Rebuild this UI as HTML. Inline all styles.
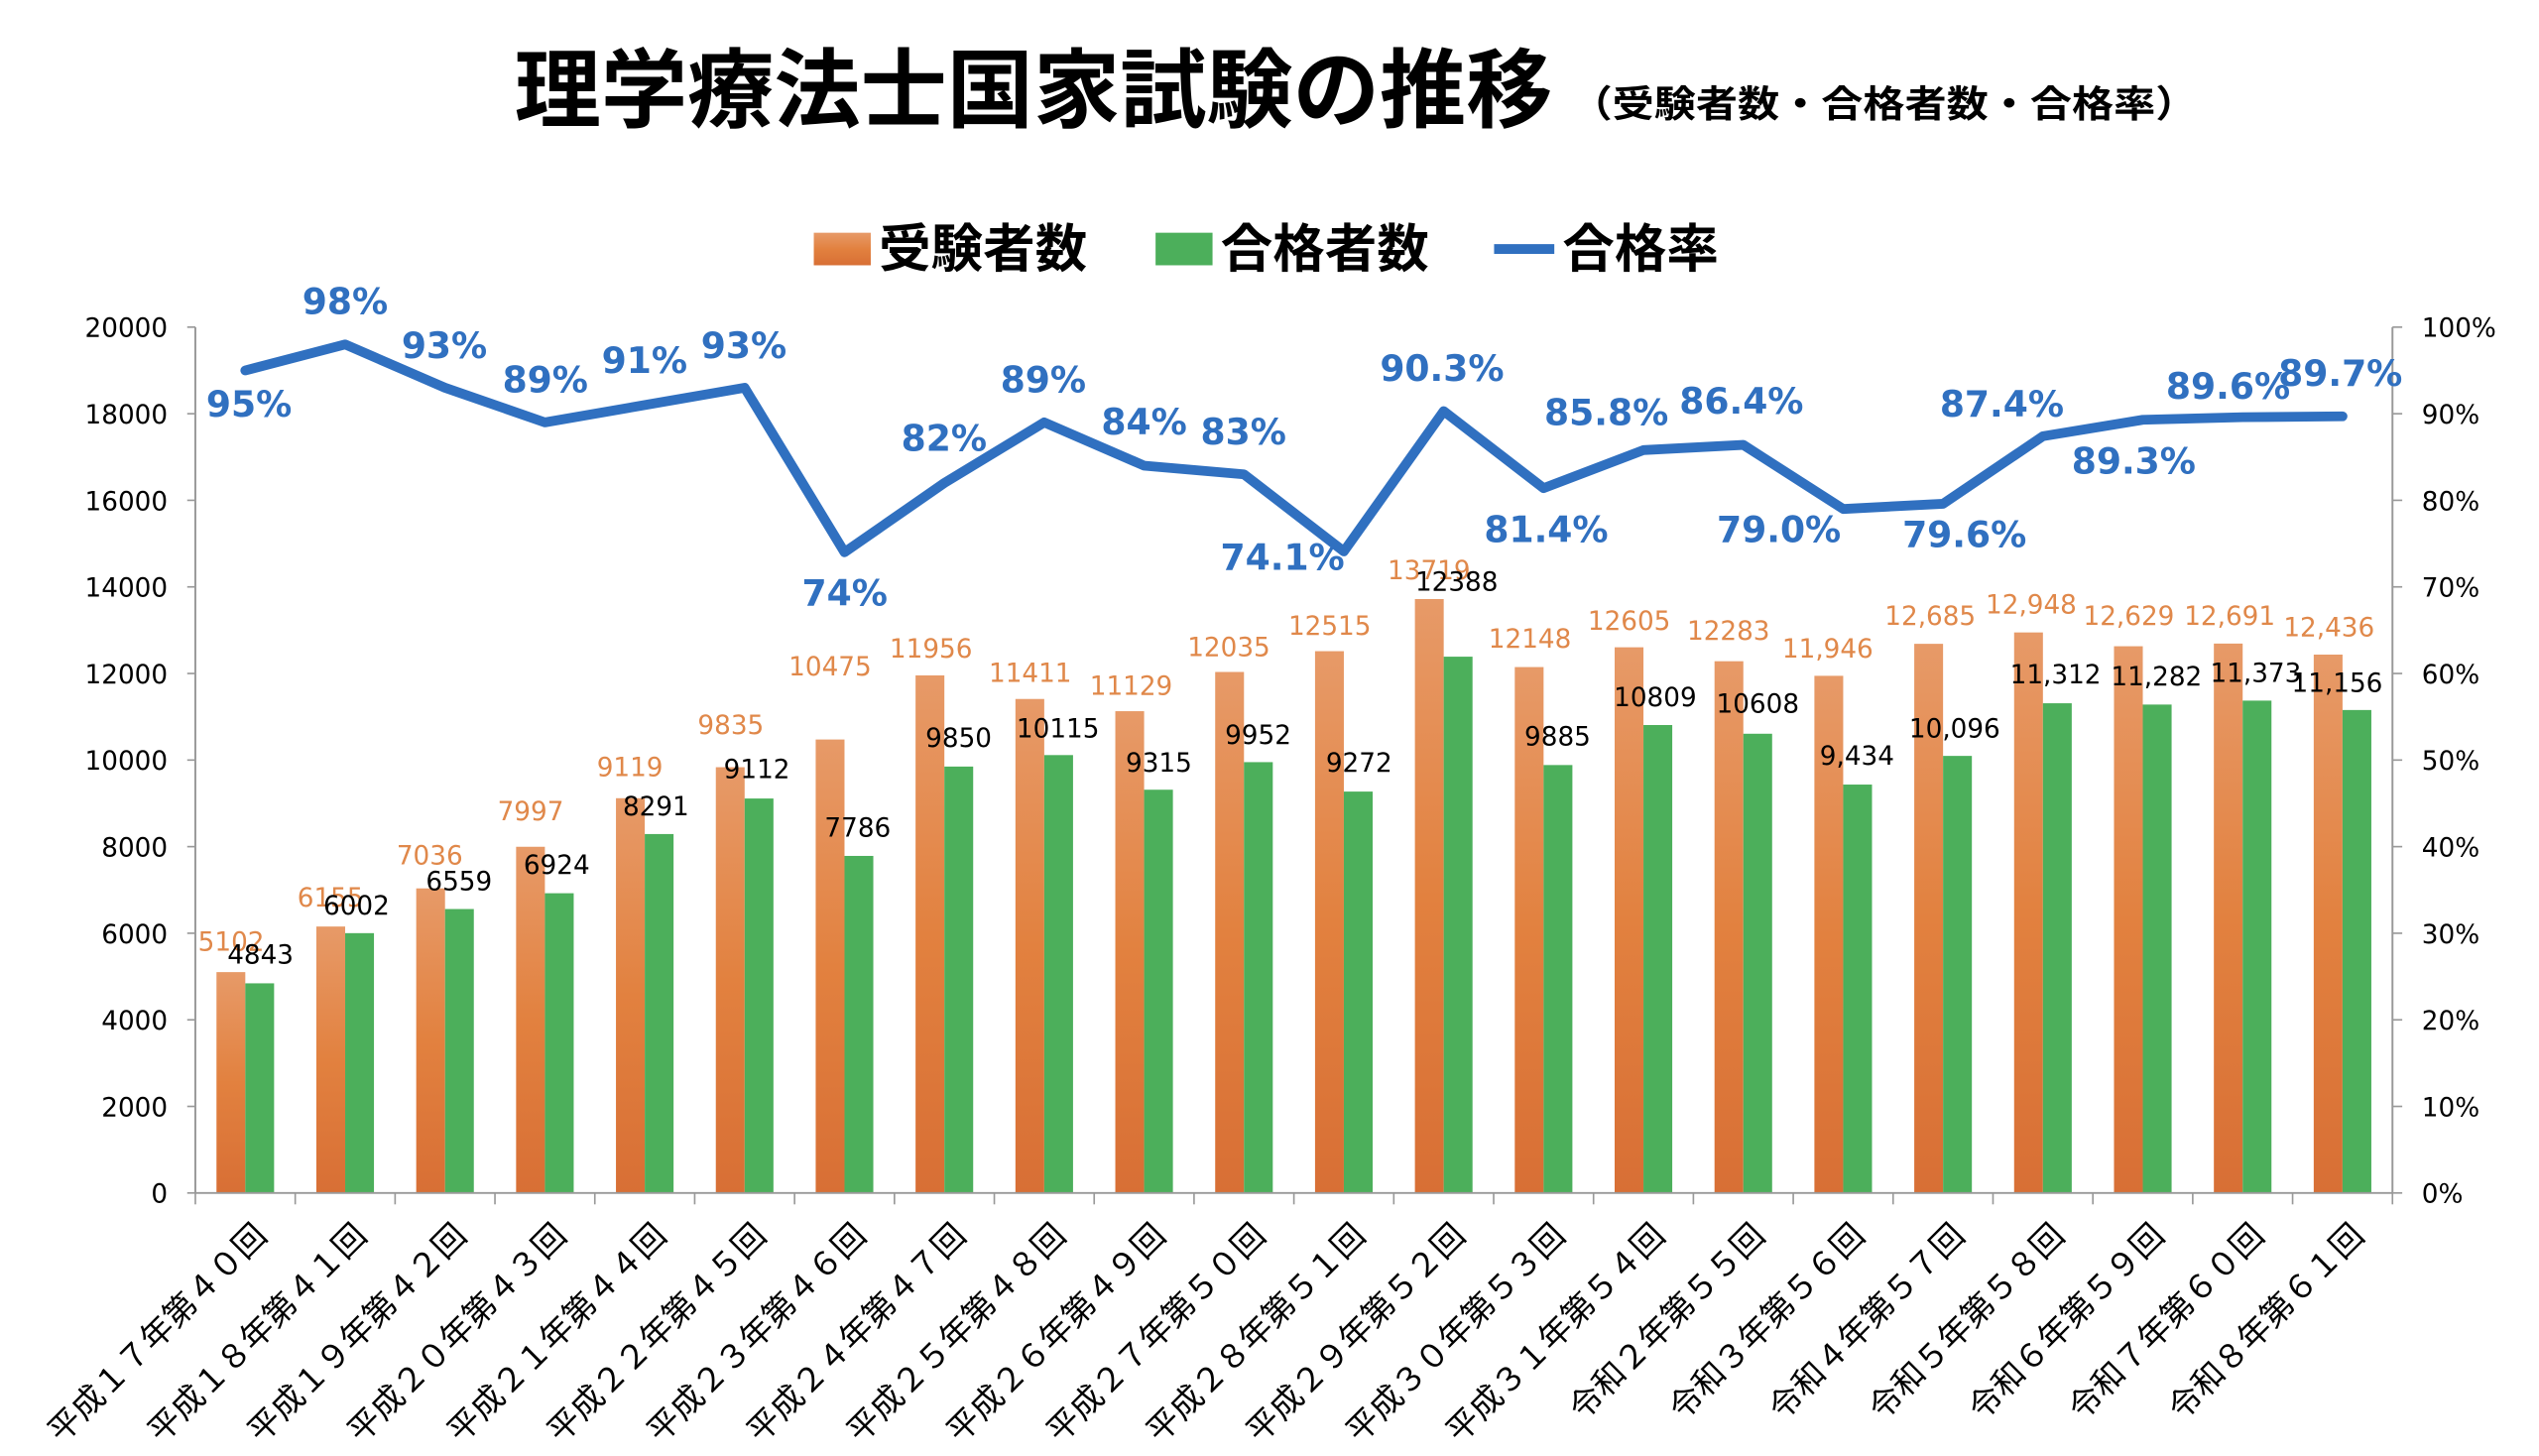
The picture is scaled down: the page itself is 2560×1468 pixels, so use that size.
<!DOCTYPE html>
<html><head><meta charset="utf-8"><style>
html,body{margin:0;padding:0;background:#fff;}
svg{display:block;}
text{font-family:"DejaVu Sans","Liberation Sans","Noto Sans CJK JP",sans-serif;}
.jp{font-family:"Liberation Sans","Noto Sans CJK JP",sans-serif;}
</style></head><body>
<svg id="s" width="2560" height="1468" viewBox="0 0 1560 894.6" xmlns="http://www.w3.org/2000/svg">
<defs>
<linearGradient id="og" x1="0" y1="0" x2="0" y2="1"><stop offset="0" stop-color="#e79a68"/><stop offset="0.5" stop-color="#e2813f"/><stop offset="1" stop-color="#d86f35"/></linearGradient>
</defs>
<text class="jp" x="316" y="74" font-size="53" font-weight="bold" fill="#000" textLength="638" lengthAdjust="spacingAndGlyphs">理学療法士国家試験の推移</text>
<text class="jp" x="965" y="72" font-size="23" font-weight="bold" fill="#000" textLength="385" lengthAdjust="spacingAndGlyphs">（受験者数・合格者数・合格率）</text>
<rect x="500" y="143" width="35" height="20" fill="url(#og)"/>
<text class="jp" x="540" y="164" font-size="32" font-weight="bold">受験者数</text>
<rect x="710" y="143" width="35" height="20" fill="#4caf5b"/>
<text class="jp" x="750" y="164" font-size="32" font-weight="bold">合格者数</text>
<line x1="918" y1="153" x2="955" y2="153" stroke="#3070c0" stroke-width="6"/>
<text class="jp" x="960" y="164" font-size="32" font-weight="bold">合格率</text>
<g id="g"></g>
</svg>
<script>
var A=[5102,6155,7036,7997,9119,9835,10475,11956,11411,11129,12035,12515,13719,12148,12605,12283,11946,12685,12948,12629,12691,12436];
var P=[4843,6002,6559,6924,8291,9112,7786,9850,10115,9315,9952,9272,12388,9885,10809,10608,9434,10096,11312,11282,11373,11156];
var R=[95,98,93,89,91,93,74,82,89,84,83,74.1,90.3,81.4,85.8,86.4,79.0,79.6,87.4,89.3,89.6,89.7];
var RL=["95%","98%","93%","89%","91%","93%","74%","82%","89%","84%","83%","74.1%","90.3%","81.4%","85.8%","86.4%","79.0%","79.6%","87.4%","89.3%","89.6%","89.7%"];
var RP=[[153,248],[212,185],[273,212],[335,233],[396,221],[457,212],[519,364],[580,269],[641,233],[703,259],[764,265],[788,342],[886,226],[950,325],[987,253],[1070,246],[1093,325],[1207,328],[1230,248],[1311,283],[1369,237],[1438,229]];
var AL=["5102","6155","7036","7997","9119","9835","10475","11956","11411","11129","12035","12515","13719","12148","12605","12283","11,946","12,685","12,948","12,629","12,691","12,436"];
var PL=["4843","6002","6559","6924","8291","9112","7786","9850","10115","9315","9952","9272","12388","9885","10809","10608","9,434","10,096","11,312","11,282","11,373","11,156"];
var AP=[[142,578],[203,551],[264,525],[326,498],[387,471],[449,445],[510,409],[572,398],[633,413],[695,421],[755,397],[817,384],[878,350],[940,392],[1001,381],[1062,387],[1123,398],[1186,378],[1248,371],[1308,378],[1370,378],[1431,385]];
var PP=[[160,586],[219,556],[282,541],[342,531],[403,495],[465,472],[527,508],[589,453],[650,447],[712,468],[773,451],[835,468],[895,357],[957,452],[1017,428],[1080,432],[1141,464],[1201,447],[1263,414],[1325,415],[1386,413],[1436,419]];
var CAT=["平成１７年第４０回","平成１８年第４１回","平成１９年第４２回","平成２０年第４３回","平成２１年第４４回","平成２２年第４５回","平成２３年第４６回","平成２４年第４７回","平成２５年第４８回","平成２６年第４９回","平成２７年第５０回","平成２８年第５１回","平成２９年第５２回","平成３０年第５３回","平成３１年第５４回","令和２年第５５回","令和３年第５６回","令和４年第５７回","令和５年第５８回","令和６年第５９回","令和７年第６０回","令和８年第６１回"];
var L=120,Rx=1470,Y0=733,YT=201,H=Y0-YT,W=(Rx-L)/22,s="";
function y(v){return Y0-v/20000*H;}
function yr(p){return Y0-p/100*H;}
for(var i=0;i<=10;i++){var yy=Y0-i*H/10;
 s+='<text x="103" y="'+(yy+6)+'" font-size="16" text-anchor="end">'+(i*2000)+'</text>';
 s+='<line x1="115" y1="'+yy+'" x2="120" y2="'+yy+'" stroke="#999"/>';
 s+='<line x1="1470" y1="'+yy+'" x2="1476" y2="'+yy+'" stroke="#999"/>';
 s+='<text x="1488" y="'+(yy+6)+'" font-size="16">'+(i*10)+'%</text>';}
for(var i=0;i<22;i++){var c=L+W*i+W/2;
 s+='<rect x="'+(c-17.7)+'" y="'+y(A[i])+'" width="17.7" height="'+(Y0-y(A[i]))+'" fill="url(#og)"/>';
 s+='<rect x="'+c+'" y="'+y(P[i])+'" width="17.7" height="'+(Y0-y(P[i]))+'" fill="#4caf5b"/>';}
for(var i=0;i<=22;i++){var x=L+W*i;s+='<line x1="'+x+'" y1="733" x2="'+x+'" y2="740" stroke="#999"/>';}
s+='<line x1="120" y1="201" x2="120" y2="733" stroke="#999" stroke-width="1.2"/>';
s+='<line x1="1470" y1="201" x2="1470" y2="733" stroke="#999" stroke-width="1.2"/>';
s+='<line x1="120" y1="733" x2="1470" y2="733" stroke="#999" stroke-width="1.2"/>';
var pts=[];for(var i=0;i<22;i++)pts.push((L+W*i+W/2)+','+yr(R[i]));
s+='<polyline points="'+pts.join(' ')+'" fill="none" stroke="#3070c0" stroke-width="6" stroke-linejoin="round" stroke-linecap="round"/>';
for(var i=0;i<22;i++){
 s+='<text x="'+AP[i][0]+'" y="'+(AP[i][1]+6)+'" font-size="16" fill="#e0884a" text-anchor="middle">'+AL[i]+'</text>';
 s+='<text x="'+PP[i][0]+'" y="'+(PP[i][1]+6)+'" font-size="16" fill="#000" text-anchor="middle">'+PL[i]+'</text>';
 s+='<text x="'+RP[i][0]+'" y="'+(RP[i][1]+8)+'" font-size="22" font-weight="bold" fill="#3070c0" text-anchor="middle">'+RL[i]+'</text>';
 var c=L+W*i+W/2+4;
 s+='<text class="jp" transform="translate('+c+',750) rotate(-45)" font-size="20" text-anchor="end" dominant-baseline="hanging" fill="#000">'+CAT[i]+'</text>';}
document.getElementById('g').innerHTML=s;
</script>
</body></html>
